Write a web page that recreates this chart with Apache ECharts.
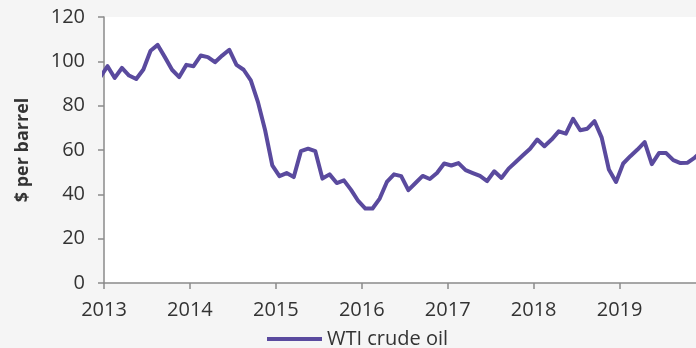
<!DOCTYPE html>
<html>
<head>
<meta charset="utf-8">
<script src="https://cdn.jsdelivr.net/npm/echarts@6/dist/echarts.min.js"></script>
<style>
html,body{margin:0;padding:0;background:#f5f5f5;}
#chart{width:696px;height:348px;}
</style>
</head>
<body>
<div id="chart"></div>
<script>
// Monthly WTI crude oil price ($ per barrel)
const years = [2012, 2013, 2014, 2015, 2016, 2017, 2018, 2019];
const wti2012 = { startMonth: 12, values: [93.0] };
const wti2013 = [97.8, 92.5, 97.0, 93.6, 92.0, 96.3, 104.8, 107.4, 101.9, 96.2, 92.9, 98.4];
const wti2014 = [97.8, 102.6, 101.9, 99.6, 102.6, 105.2, 98.4, 96.2, 91.4, 81.6, 68.9, 53.1];
const wti2015 = [48.2, 49.6, 47.8, 59.5, 60.6, 59.5, 47.1, 49.0, 45.1, 46.3, 42.0, 37.0];
const wti2016 = [33.6, 33.6, 38.1, 45.6, 49.0, 48.2, 41.9, 45.1, 48.3, 46.9, 49.6, 53.9];
const wti2017 = [53.0, 54.1, 50.9, 49.6, 48.3, 46.0, 50.4, 47.4, 51.6, 54.6, 57.6, 60.6];
const wti2018 = [64.7, 61.7, 64.7, 68.4, 67.4, 74.1, 68.9, 69.6, 73.0, 65.6, 51.2, 45.6];
const wti2019 = [53.9, 57.2, 60.2, 63.6, 53.6, 58.6, 58.6, 55.4, 54.1, 54.3, 56.6, 59.5];
const xTickLabels = [2013, 2014, 2015, 2016, 2017, 2018, 2019];
const yTicks = [0, 20, 40, 60, 80, 100, 120];
const seriesName = 'WTI crude oil';
const yAxisTitle = '$ per barrel';

// build [decimal-year (mid-month), value] pairs
const perYear = {
  2012: wti2012.values, 2013: wti2013, 2014: wti2014, 2015: wti2015,
  2016: wti2016, 2017: wti2017, 2018: wti2018, 2019: wti2019
};
const data = [];
years.forEach(function (y) {
  const vals = perYear[y];
  const start = (y === 2012) ? wti2012.startMonth : 1;
  vals.forEach(function (v, i) {
    const m = start + i; // 1..12
    data.push([y + (m - 0.5) / 12, v]);
  });
});

const FONT = 'Open Sans';
const chart = echarts.init(document.getElementById('chart'), null, { renderer: 'canvas' });
chart.setOption({
  backgroundColor: '#f5f5f5',
  animation: false,
  grid: {
    left: 104, right: 0, top: 17, bottom: 65,
    show: true, backgroundColor: '#ffffff', borderWidth: 0
  },
  legend: {
    data: [seriesName],
    left: 267, top: 329, padding: 0,
    icon: 'rect', itemWidth: 55, itemHeight: 4, itemGap: 10,
    textStyle: { fontFamily: FONT, fontSize: 20, color: '#333333' }
  },
  xAxis: {
    type: 'value',
    min: xTickLabels[0],
    max: 2019.889,
    interval: 1,
    axisLine: { show: true, lineStyle: { color: '#8a8a8a', width: 1.5 } },
    axisTick: { show: true, length: 6, lineStyle: { color: '#8a8a8a', width: 1.5 }, customValues: xTickLabels },
    axisLabel: {
      customValues: xTickLabels,
      formatter: function (v) { return String(Math.round(v)); },
      fontFamily: FONT, fontSize: 20, color: '#333333', margin: 17
    },
    splitLine: { show: false }
  },
  yAxis: {
    type: 'value',
    min: yTicks[0], max: yTicks[yTicks.length - 1], interval: 20,
    name: yAxisTitle,
    nameLocation: 'middle',
    nameRotate: 90,
    nameGap: 72,
    nameTextStyle: { fontFamily: FONT, fontSize: 18, fontWeight: 'bold', color: '#333333' },
    axisLine: { show: true, lineStyle: { color: '#8a8a8a', width: 1.5 } },
    axisTick: { show: true, length: 6, lineStyle: { color: '#8a8a8a', width: 1.5 } },
    axisLabel: { fontFamily: FONT, fontSize: 20, color: '#333333', margin: 19 },
    splitLine: { show: false }
  },
  series: [{
    name: seriesName,
    type: 'line',
    data: data,
    showSymbol: false,
    symbol: 'none',
    clip: true,
    lineStyle: { color: '#5a4a9e', width: 4, join: 'round' },
    itemStyle: { color: '#5a4a9e' }
  }]
});
</script>
</body>
</html>
